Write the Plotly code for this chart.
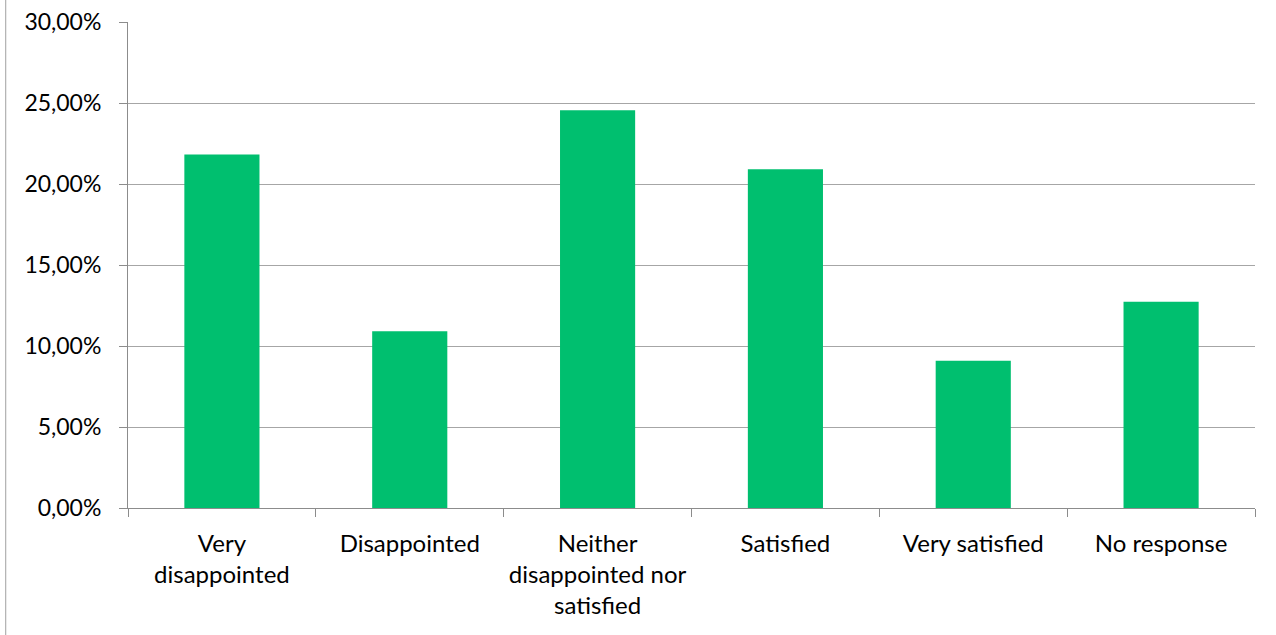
import plotly.graph_objects as go

# Survey responses (share of 110 respondents)
categories = [
    "Very<br>disappointed",
    "Disappointed",
    "Neither<br>disappointed nor<br>satisfied",
    "Satisfied",
    "Very satisfied",
    "No response",
]
shares = [0.2182, 0.1091, 0.2455, 0.2091, 0.0909, 0.1273]
y_ticks = [0.0, 0.05, 0.10, 0.15, 0.20, 0.25, 0.30]

BAR_COLOR = "#00BF6F"
GRID_COLOR = "#a6a6a6"
AXIS_COLOR = "#8c8c8c"
FONT = "Lato"

fig = go.Figure(
    go.Bar(
        x=categories,
        y=shares,
        marker=dict(color=BAR_COLOR, line=dict(width=0)),
        width=0.4,
        hoverinfo="x+y",
    )
)

fig.update_layout(
    width=1276,
    height=635,
    margin=dict(l=128, r=21, t=22, b=127, autoexpand=False),
    paper_bgcolor="white",
    plot_bgcolor="white",
    separators=", ",
    showlegend=False,
    font=dict(family=FONT, size=22, color="#000000"),
    shapes=[
        # left edge of the chart frame
        dict(
            type="line",
            xref="paper",
            yref="paper",
            x0=-0.1085,
            x1=-0.1085,
            y0=-0.27,
            y1=1.06,
            line=dict(color="#a0a0a0", width=1),
        )
    ],
)

fig.update_xaxes(
    type="category",
    automargin=False,
    showgrid=False,
    showline=True,
    linecolor=AXIS_COLOR,
    linewidth=1,
    ticks="outside",
    tickson="boundaries",
    ticklen=8,
    tickcolor=AXIS_COLOR,
    ticklabelstandoff=14,
    tickfont=dict(family=FONT, size=24, color="#000000"),
    zeroline=False,
)

fig.update_yaxes(
    range=[0, 0.30],
    automargin=False,
    tickvals=y_ticks,
    tickformat=".2%",
    showgrid=True,
    gridcolor=GRID_COLOR,
    gridwidth=1,
    showline=True,
    linecolor=AXIS_COLOR,
    linewidth=1,
    ticks="outside",
    ticklen=8,
    tickcolor=AXIS_COLOR,
    ticklabelstandoff=13,
    tickfont=dict(family=FONT, size=23, color="#000000"),
    zeroline=False,
)

fig.write_html("out.html")
